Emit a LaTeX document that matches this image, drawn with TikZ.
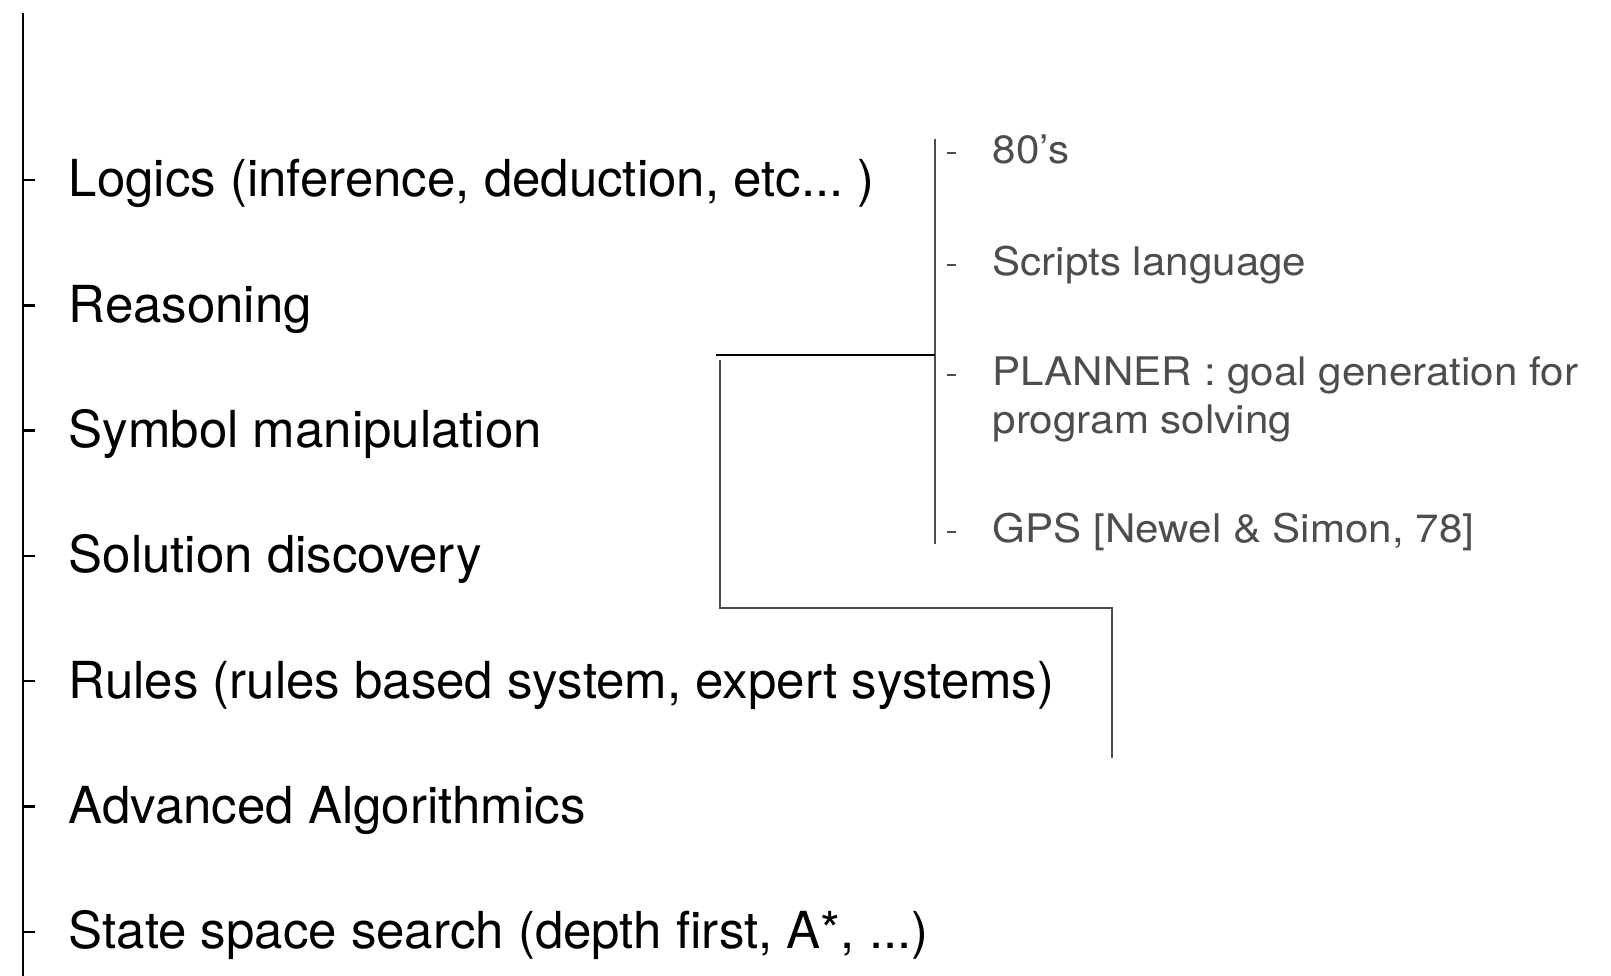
\documentclass[tikz,border=0pt]{standalone}
\usepackage{fontspec}
\setmainfont{TeX Gyre Heros}
\newfontfamily\sidefont[FakeStretch=1.07]{TeX Gyre Heros}
\definecolor{sidegray}{HTML}{4D4D4D}
\newcommand\tdots{.\kern0pt.\kern0pt.}
\begin{document}
\begin{tikzpicture}[x=0.01cm, y=-0.01cm,
    topic/.style={anchor=base west, inner sep=0pt, font=\fontsize{14.5}{17}\selectfont},
    item/.style={anchor=base west, inner sep=0pt, align=left, text=sidegray, font=\sidefont\fontsize{11.2}{13.4}\selectfont},
    stem/.style={line width=0.7pt},
    grayline/.style={sidegray, line width=0.6pt},
    dashmark/.style={sidegray, line width=0.8pt}]
  \useasboundingbox (0,0) rectangle (1611,976);
  % main list with its timeline
  \draw[stem] (23,13) -- (23,976);
  \foreach \t [count=\i from 0] in {{Logics (inference, deduction, etc\tdots\ )}, Reasoning, Symbol manipulation, Solution discovery, {Rules (rules based system, expert systems)}, Advanced Algorithmics, {State space search (depth first, A*, \tdots)}} {
    \node[topic] (topic\i) at (68,197+125.3*\i) {\t};
    \draw[stem] (23,180+125.3*\i) -- (35,180+125.3*\i);
  }
  % side notes (base of planner = its last line)
  \node[item] (eighties) at (992,164) {80’s};
  \node[item] (scripts) at (992,276) {Scripts language};
  \node[item] (planner) at (992,433) {PLANNER : goal generation for\\program solving};
  \node[item] (gps) at (992,543) {GPS [Newel \& Simon, 78]};
  \foreach \n in {eighties, scripts, gps}
    \draw[dashmark] ([shift={(-45,-11)}]\n.base west) -- ++(9,0);
  \draw[dashmark] ([shift={(-45,-58)}]planner.base west) -- ++(9,0);
  % bracket
  \coordinate (top) at (935,139);
  \coordinate (bottom) at (935,544);
  \coordinate (join) at (716,355);
  \coordinate (drop) at (720,360);
  \coordinate (corner) at (1112,608);
  \coordinate (tail) at (1112,758);
  \draw[grayline] (top) -- (bottom);
  \draw[line width=0.8pt] (join) -- (join -| top);
  \draw[grayline] (drop) |- (corner) -- (tail);
\end{tikzpicture}
\end{document}
